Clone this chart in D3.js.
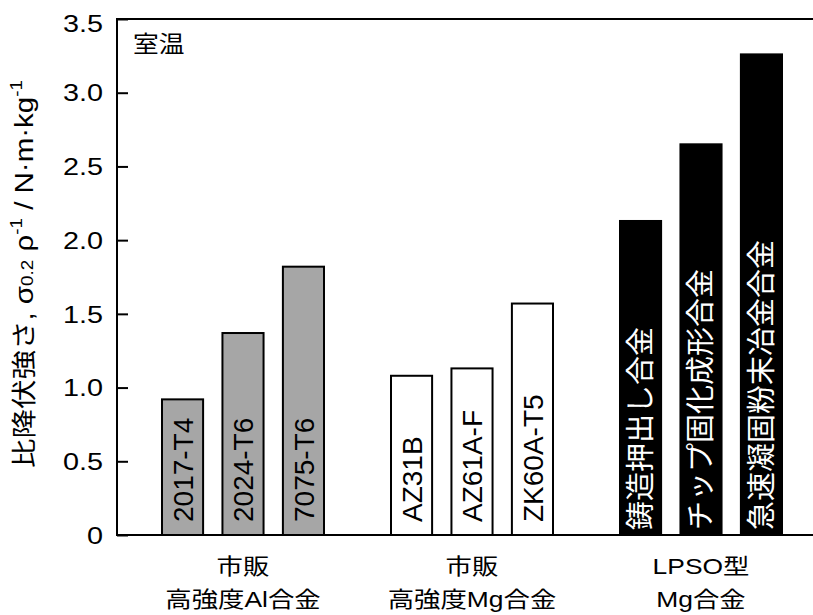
<!DOCTYPE html>
<html>
<head>
<meta charset="utf-8">
<script src="https://cdn.jsdelivr.net/npm/d3@7"></script>
<style>
  body { margin: 0; background: #fff; }
  text { font-family: "Liberation Sans", Arial, "Noto Sans CJK JP", sans-serif; }
</style>
</head>
<body>
<svg id="chart" width="813" height="615"></svg>
<script>
// Specific 0.2% proof strength of commercial Al / Mg alloys and LPSO-type Mg alloys
const groups = ["al", "mg", "lpso"];
const groupLabels = [["市販", "高強度Al合金"], ["市販", "高強度Mg合金"], ["LPSO型", "Mg合金"]];
const alloys = ["2017-T4", "2024-T6", "7075-T6", "AZ31B", "AZ61A-F", "ZK60A-T5",
                "鋳造押出し合金", "チップ固化成形合金", "急速凝固粉末冶金合金"];
const alloyGroups = ["al", "al", "al", "mg", "mg", "mg", "lpso", "lpso", "lpso"];
const specificStrength = [0.92, 1.37, 1.82, 1.08, 1.13, 1.57, 2.13, 2.65, 3.26];
const yTicks = [0, 0.5, 1.0, 1.5, 2.0, 2.5, 3.0, 3.5];
const conditionLabel = "室温";

const fillByGroup = { al: "#a6a6a6", mg: "#ffffff", lpso: "#000000" };
const inkByGroup = { al: "#000000", mg: "#000000", lpso: "#ffffff" };

const plot = { left: 117, top: 19, bottom: 535, right: 813 };
const SX = 1.2; // horizontal glyph stretch used for the horizontal labels

const svg = d3.select("#chart");

const y = d3.scaleLinear().domain([0, 3.5]).range([plot.bottom, plot.top]);
const xGroup = d3.scalePoint().domain(groups).range([243, 701]);
const xInner = d3.scaleBand().domain([0, 1, 2]).range([-81, 81]).paddingInner(0.32);

const bars = alloys.map((name, i) => {
  const g = alloyGroups[i];
  const idx = alloyGroups.slice(0, i).filter(d => d === g).length;
  return { name, group: g, idx, value: specificStrength[i] };
});
const barX = d => xGroup(d.group) + xInner(d.idx);

// bars
svg.append("g").selectAll("rect").data(bars).join("rect")
  .attr("x", barX)
  .attr("y", d => y(d.value))
  .attr("width", xInner.bandwidth())
  .attr("height", d => y(0) - y(d.value))
  .attr("fill", d => fillByGroup[d.group])
  .attr("stroke", "#000")
  .attr("stroke-width", 2);

// vertical labels inside bars, reading bottom to top
svg.append("g").selectAll("text").data(bars).join("text")
  .attr("transform", d => {
    const cx = barX(d) + xInner.bandwidth() / 2;
    const base = d.group === "lpso" ? plot.bottom - 5 : plot.bottom - 13;
    return `translate(${cx},${base}) rotate(-90)`;
  })
  .attr("dy", "0.36em")
  .attr("text-anchor", "start")
  .attr("font-size", d => d.group === "lpso" ? 29 : 28)
  .attr("fill", d => inkByGroup[d.group])
  .text(d => d.name);

// axes frame: top edge, left axis, bottom axis
svg.append("path")
  .attr("d", `M${plot.right},${plot.top}H${plot.left}V${plot.bottom}H${plot.right}`)
  .attr("fill", "none").attr("stroke", "#000").attr("stroke-width", 2);

// inward y ticks
const yAxis = d3.axisLeft(y).tickValues(yTicks).tickSizeInner(-11).tickSizeOuter(0)
  .tickFormat(d => d === 0 ? "0" : d.toFixed(1));
const gy = svg.append("g").attr("transform", `translate(${plot.left},0)`).call(yAxis);
gy.select(".domain").remove();
gy.selectAll(".tick line").attr("stroke", "#000").attr("stroke-width", 2);
gy.selectAll(".tick text")
  .attr("font-size", 24)
  .attr("fill", "#000")
  .attr("x", null)
  .attr("dy", null)
  .attr("text-anchor", "end")
  .attr("dominant-baseline", "central")
  .attr("transform", d => `translate(-14,${d === 3.5 ? 4 : 0}) scale(${SX},1)`);

// y-axis title
const yTitle = svg.append("text")
  .attr("transform", `translate(24,274) rotate(-90) scale(1.18,1)`)
  .attr("text-anchor", "middle")
  .attr("dominant-baseline", "central")
  .attr("font-size", 25)
  .attr("fill", "#000");
yTitle.append("tspan").text("比降伏強さ, σ");
yTitle.append("tspan").attr("font-size", 16).attr("baseline-shift", "-25%").text("0.2");
yTitle.append("tspan").text(" ρ");
yTitle.append("tspan").attr("font-size", 16).attr("baseline-shift", "45%").text("-1");
yTitle.append("tspan").text(" / N·m·kg");
yTitle.append("tspan").attr("font-size", 16).attr("baseline-shift", "45%").text("-1");

// temperature condition
svg.append("text")
  .attr("transform", `translate(133,44) scale(1.12,1)`)
  .attr("dominant-baseline", "central")
  .attr("font-size", 23)
  .attr("fill", "#000")
  .text(conditionLabel);

// group captions below the axis
const cap = svg.append("g").selectAll("g").data(groups).join("g")
  .attr("transform", d => `translate(${xGroup(d)},0)`);
cap.each(function (g, i) {
  groupLabels[i].forEach((line, k) => {
    d3.select(this).append("text")
      .attr("transform", `translate(0,${566 + k * 33}) scale(${SX},1)`)
      .attr("text-anchor", "middle")
      .attr("dominant-baseline", "central")
      .attr("font-size", 22)
      .attr("fill", "#000")
      .text(line);
  });
});
</script>
</body>
</html>
